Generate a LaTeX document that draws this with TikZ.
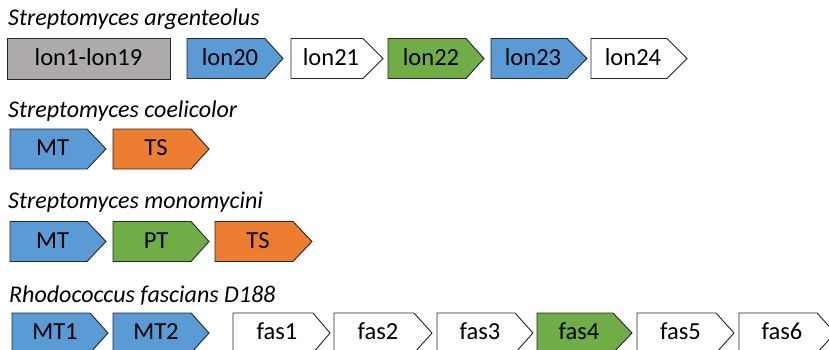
\documentclass[tikz,border=0pt]{standalone}
\usepackage{fontspec}
\setmainfont{Carlito}
\definecolor{geneblue}{HTML}{5B9BD5}
\definecolor{geneorange}{HTML}{ED7D31}
\definecolor{genegreen}{HTML}{70AD47}
\definecolor{genegray}{HTML}{AEAAAA}
\tikzset{
  geneout/.style={draw=black!85, line width=0.9pt, line join=miter},
  genelabel/.style={anchor=base, inner sep=0pt, font=\fontsize{24.5}{29}\selectfont},
  species/.style={anchor=base west, inner sep=0pt, font=\fontsize{24}{29}\selectfont\itshape},
}
% \genearrow{name}{left}{body end}{tip}{top}{fill}{label}
\newcommand\genearrow[7]{%
  \path[geneout, fill=#6] (#2,#5) -- (#3,#5) -- (#4,#5+20) -- (#3,#5+40) -- (#2,#5+40) -- cycle;
  \node[genelabel] (#1) at ({(#2+#3)/2+4},#5+26.5) {#7};
}
\begin{document}
\begin{tikzpicture}[x=1pt, y=-1pt]
\useasboundingbox (0,0) rectangle (829,349);
\clip (0,0) rectangle (829,349);

% Streptomyces argenteolus
\node[species] (sa) at (8,25) {Streptomyces argenteolus};
\path[geneout, fill=genegray] (7,38.5) rectangle (170,79);
\node[genelabel] (lon1) at (88.5,65) {lon1-lon19};
\genearrow{lon20}{187}{265}{283}{38.5}{geneblue}{lon20}
\genearrow{lon21}{291}{363}{383}{38.5}{white}{lon21}
\genearrow{lon22}{388}{466}{484}{38.5}{genegreen}{lon22}
\genearrow{lon23}{491}{567}{587}{38.5}{geneblue}{lon23}
\genearrow{lon24}{591}{667}{687}{38.5}{white}{lon24}

% Streptomyces coelicolor
\node[species] (sc) at (8,117) {Streptomyces coelicolor};
\genearrow{scMT}{10}{87}{106}{129}{geneblue}{MT}
\genearrow{scTS}{113}{191}{209}{129}{geneorange}{TS}

% Streptomyces monomycini
\node[species] (sm) at (8,208) {Streptomyces monomycini};
\genearrow{smMT}{10}{87}{106}{221.5}{geneblue}{MT}
\genearrow{smPT}{113}{191}{209}{221.5}{genegreen}{PT}
\genearrow{smTS}{215}{293}{312}{221.5}{geneorange}{TS}

% Rhodococcus fascians D188
\node[species] (rf) at (9,302) {Rhodococcus fascians D188};
\genearrow{MT1}{12}{90}{108}{313}{geneblue}{MT1}
\genearrow{MT2}{113}{191}{209}{313}{geneblue}{MT2}
\genearrow{fas1}{233}{313}{330}{313}{white}{fas1}
\genearrow{fas2}{334}{414}{432}{313}{white}{fas2}
\genearrow{fas3}{437}{515}{533}{313}{white}{fas3}
\genearrow{fas4}{537}{613}{632}{313}{genegreen}{fas4}
\genearrow{fas5}{637}{716}{734}{313}{white}{fas5}
\genearrow{fas6}{739}{817}{835}{313}{white}{fas6}
\end{tikzpicture}
\end{document}
